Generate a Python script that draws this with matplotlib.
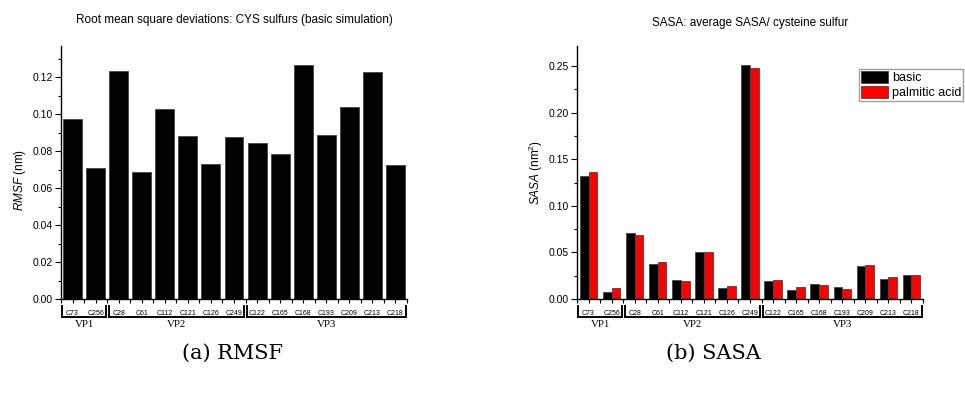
import numpy as np
import matplotlib
matplotlib.use("Agg")
import matplotlib.pyplot as plt
from matplotlib.ticker import MultipleLocator, FixedLocator
import matplotlib.transforms as mtransforms

plt.rcParams['font.family'] = ['Liberation Sans', 'DejaVu Sans']
plt.rcParams['mathtext.fontset'] = 'custom'
plt.rcParams['mathtext.rm'] = 'Liberation Sans'
plt.rcParams['mathtext.it'] = 'Liberation Sans:italic'

# cysteines, grouped by protein
cys_labels = ["C73", "C256", "C28", "C61", "C112", "C121", "C126", "C249",
              "C122", "C165", "C168", "C193", "C209", "C213", "C218"]
groups = ["VP1", "VP2", "VP3"]
group_sizes = [2, 6, 7]

# RMSF (nm), basic simulation
rmsf = [0.0971, 0.0708, 0.1232, 0.0685, 0.1027, 0.0881, 0.0731, 0.0874,
        0.0845, 0.0784, 0.1267, 0.0885, 0.1038, 0.1225, 0.0723]

# SASA (nm^2)
sasa_basic = [0.1325, 0.0078, 0.0711, 0.0378, 0.0203, 0.0500, 0.0118, 0.2515,
              0.0196, 0.0096, 0.0164, 0.0125, 0.0350, 0.0218, 0.0260]
sasa_palm = [0.1361, 0.0118, 0.0686, 0.0396, 0.0193, 0.0503, 0.0143, 0.2476,
             0.0204, 0.0125, 0.0150, 0.0110, 0.0360, 0.0239, 0.0253]

W, H = 965, 394
fig = plt.figure(figsize=(W / 100, H / 100), dpi=100)

def px_axes(x0, y0, x1, y1):
    return fig.add_axes([x0 / W, 1 - y1 / H, (x1 - x0) / W, (y1 - y0) / H])

ax1 = px_axes(61, 46, 407, 299)
ax2 = px_axes(577, 46, 923, 299)

x = np.arange(len(cys_labels))

ax1.bar(x, rmsf, width=0.82, color="black", edgecolor="#444444", linewidth=0.6)
w = 0.38
ax2.bar(x - w / 2, sasa_basic, width=w, color="black", edgecolor="#444444",
        linewidth=0.6, label="basic")
ax2.bar(x + w / 2, sasa_palm, width=w, color="#ff0000", edgecolor="#444444",
        linewidth=0.6, label="palmitic acid")

ax1.set_ylim(0, 0.1368)
ax1.yaxis.set_major_locator(MultipleLocator(0.02))
ax1.yaxis.set_minor_locator(MultipleLocator(0.01))
ax2.set_ylim(0, 0.2715)
ax2.yaxis.set_major_locator(MultipleLocator(0.05))
ax2.yaxis.set_minor_locator(MultipleLocator(0.025))

for ax in (ax1, ax2):
    ax.set_xlim(-0.5, len(x) - 0.5)
    ax.spines["top"].set_visible(False)
    ax.spines["right"].set_visible(False)
    ax.spines["left"].set_linewidth(1.0)
    ax.spines["bottom"].set_linewidth(1.0)
    ax.yaxis.set_major_formatter(matplotlib.ticker.FormatStrFormatter("%.2f"))
    ax.tick_params(axis="y", which="major", direction="out", length=4,
                   width=0.8, labelsize=7.5, pad=2)
    ax.tick_params(axis="y", which="minor", direction="out", length=2.5, width=0.8)
    ax.set_xticks(x)
    ax.set_xticklabels(cys_labels)
    ax.xaxis.set_minor_locator(FixedLocator(np.arange(-0.5, len(x), 1.0)))
    ax.tick_params(axis="x", which="major", direction="out", length=3,
                   width=0.8, labelsize=5, pad=5, colors="black")
    ax.tick_params(axis="x", which="minor", direction="out", length=3, width=0.8)

    # group brackets below the labels
    trans = mtransforms.blended_transform_factory(ax.transData, ax.transAxes)
    start = -0.5
    for g, n in zip(groups, group_sizes):
        end = start + n
        a, b = start + 0.06, end - 0.06
        ax.plot([a, a, b, b], [-0.028, -0.071, -0.071, -0.028], color="black",
                lw=1.4, transform=trans, clip_on=False, solid_joinstyle="miter")
        ax.text((start + end) / 2, -0.099, g, transform=trans, ha="center",
                va="center", fontsize=7.8, family=["Liberation Serif"])
        start = end

ax1.set_title("Root mean square deviations: CYS sulfurs (basic simulation)",
              fontsize=8.5, pad=0, y=1 + (46 - 20) / 253, va="center")
ax2.set_title("SASA: average SASA/ cysteine sulfur",
              fontsize=8.5, pad=0, y=1 + (46 - 23) / 253, va="center")

ax1.set_ylabel(r"$\it{RMSF}$ (nm)", fontsize=8.5)
ax1.yaxis.set_label_coords((28 - 61) / 346, (299 - 180) / 253)
ax2.set_ylabel(r"$\it{SASA}$ (nm$^2$)", fontsize=8.5)
ax2.yaxis.set_label_coords((545 - 577) / 346, (299 - 172) / 253)

leg = fig.legend(loc="upper left", bbox_to_anchor=(859 / W, 1 - 69 / H),
                 fontsize=9, frameon=True, fancybox=False, edgecolor="#888888",
                 borderpad=0.15, handlelength=2.2, handleheight=1.1,
                 handletextpad=0.3, labelspacing=0.15, borderaxespad=0)
leg.get_frame().set_linewidth(1.0)

fig.text(233 / W, 1 - 353 / H, "(a) RMSF", ha="center", va="center",
         fontsize=15, family=["DejaVu Serif"])
fig.text(713 / W, 1 - 353 / H, "(b) SASA", ha="center", va="center",
         fontsize=15, family=["DejaVu Serif"])

fig.savefig("out.png", dpi=100)
